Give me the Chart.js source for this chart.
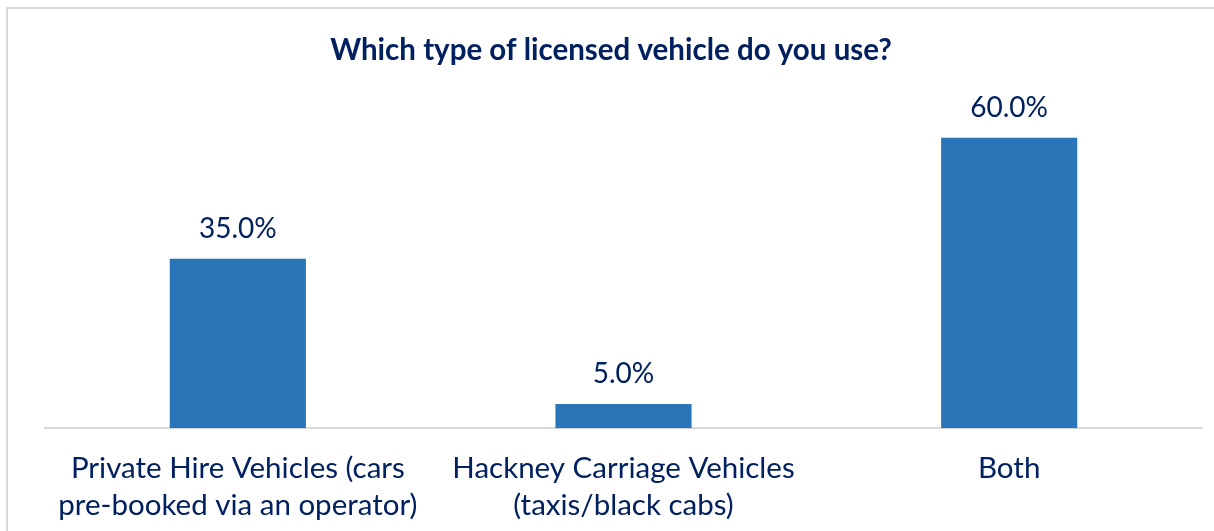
<!DOCTYPE html>
<html>
<head>
<meta charset="utf-8">
<script src="https://cdn.jsdelivr.net/npm/chart.js@4.4.1/dist/chart.umd.min.js"></script>
<style>
    body { margin: 0; background: #fff; overflow: hidden; }
    #box {
        position: absolute; left: 6px; top: 7px;
        width: 1230px; height: 580px;
        border: 2px solid #d9d9d9;
    }
    #myChart { position: absolute; left: 0; top: 0; }
</style>
</head>
<body>
<div id="box"><canvas id="myChart" width="1206" height="560"></canvas></div>
<script>
// chart data
const categories = [
    ['Private Hire Vehicles (cars', 'pre-booked via an operator)'],
    ['Hackney Carriage Vehicles', '(taxis/black cabs)'],
    'Both'
];
const shares = [35.0, 5.0, 60.0];
const titleText = 'Which type of licensed vehicle do you use?';

const navy = '#002060';
const barBlue = '#2A75B8';

// draws the % value above each bar
const valueLabels = {
    id: 'valueLabels',
    afterDatasetsDraw(chart) {
        const ctx = chart.ctx;
        const meta = chart.getDatasetMeta(0);
        ctx.save();
        ctx.font = '28px Lato';
        ctx.fillStyle = navy;
        ctx.textAlign = 'center';
        ctx.textBaseline = 'middle';
        meta.data.forEach(function (bar, i) {
            ctx.fillText(shares[i].toFixed(1) + '%', bar.x, bar.y - 30);
        });
        ctx.restore();
    }
};

const ctx = document.getElementById('myChart').getContext('2d');
const myChart = new Chart(ctx, {
    type: 'bar',
    data: {
        labels: categories,
        datasets: [{
            data: shares,
            backgroundColor: barBlue,
            borderWidth: 0,
            barPercentage: 0.353,
            categoryPercentage: 1.0
        }]
    },
    options: {
        responsive: false,
        animation: false,
        layout: {
            padding: { left: 12, right: 12, top: 0, bottom: 23 }
        },
        plugins: {
            legend: { display: false },
            tooltip: { enabled: false },
            title: {
                display: true,
                text: titleText,
                color: navy,
                font: { family: 'Lato', size: 29.5, weight: 'bold', lineHeight: 1.2 },
                padding: { top: 24, bottom: 21 }
            }
        },
        scales: {
            y: {
                min: 0,
                max: 70,
                grid: { display: false },
                border: { display: false },
                ticks: { display: false },
                // empty space on the left of the plot
                afterFit: function (scale) { scale.width = 25; }
            },
            x: {
                grid: { display: false, drawTicks: false },
                border: { color: '#d9d9d9', width: 2 },
                ticks: {
                    color: navy,
                    font: { family: 'Lato', size: 29.5, lineHeight: 1.25 },
                    padding: 22,
                    maxRotation: 0,
                    autoSkip: false
                }
            }
        }
    },
    plugins: [valueLabels]
});
</script>
</body>
</html>
